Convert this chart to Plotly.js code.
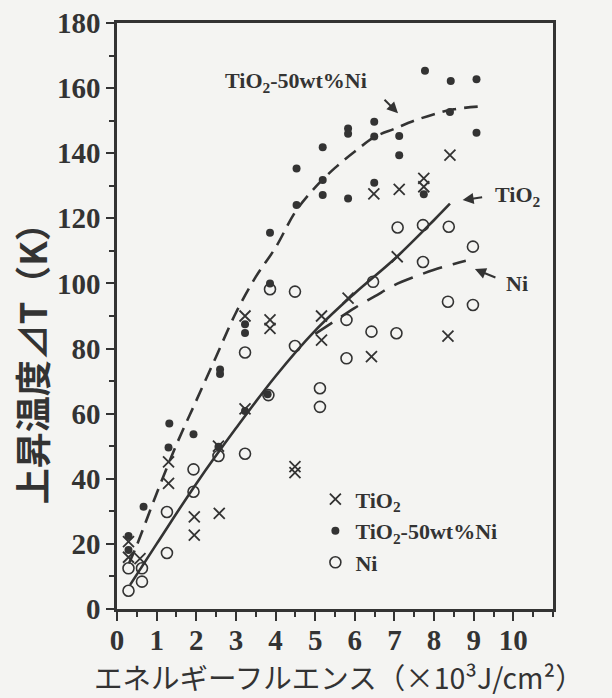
<!DOCTYPE html>
<html>
<head>
<meta charset="utf-8">
<script src="https://cdn.plot.ly/plotly-3.0.1.min.js"></script>
<style>
html,body{margin:0;padding:0;background:#f4f4f2;}
#chart{width:612px;height:698px;}
</style>
</head>
<body>
<div id="chart"></div>
<script>
// ---- data ----
const seriesNames = ['TiO<sub>2</sub>', 'TiO<sub>2</sub>-50wt%Ni', 'Ni'];

// TiO2 (crosses)
const tio2X = [0.29, 0.29, 0.58, 1.30, 1.30, 1.95, 1.95, 2.58, 2.56, 3.23, 3.23, 3.86, 3.86, 4.49, 4.49, 5.16, 5.16, 5.83, 6.42, 6.48, 7.07, 7.12, 7.74, 7.74, 8.35, 8.40];
const tio2Y = [20.7, 15.9, 15.5, 45.2, 38.6, 28.3, 22.7, 29.4, 50.0, 90.0, 61.5, 88.8, 86.2, 43.7, 41.9, 90.0, 82.6, 95.5, 77.5, 127.5, 108.2, 128.9, 132.3, 129.7, 83.8, 139.4];

// TiO2-50wt%Ni (filled dots)
const compX = [0.29, 0.29, 0.67, 1.32, 1.30, 1.93, 2.56, 2.60, 2.60, 3.23, 3.23, 3.23, 3.80, 3.86, 3.86, 4.53, 4.53, 5.19, 5.19, 5.19, 5.83, 5.83, 5.83, 6.49, 6.49, 6.49, 7.12, 7.12, 7.74, 7.77, 8.42, 8.40, 9.07, 9.07];
const compY = [22.4, 18.1, 31.4, 57.0, 49.6, 53.7, 49.8, 73.6, 72.2, 87.5, 84.8, 60.8, 66.0, 115.6, 100.0, 124.1, 135.3, 141.8, 131.8, 127.2, 147.6, 146.0, 126.1, 149.7, 145.1, 130.9, 145.3, 139.4, 127.4, 165.3, 162.2, 152.7, 162.7, 146.3];

// Ni (open circles)
const niX = [0.29, 0.29, 0.63, 0.63, 1.26, 1.26, 1.93, 1.93, 2.56, 3.23, 3.23, 3.82, 3.86, 4.49, 4.49, 5.12, 5.12, 5.79, 5.79, 6.42, 6.46, 7.05, 7.08, 7.72, 7.72, 8.37, 8.35, 8.98, 8.98];
const niY = [12.5, 5.6, 12.5, 8.4, 29.8, 17.2, 42.9, 36.0, 47.0, 78.8, 47.7, 65.7, 98.2, 97.5, 80.8, 67.8, 62.1, 88.8, 77.0, 85.2, 100.5, 84.7, 117.2, 117.9, 106.6, 117.4, 94.4, 111.3, 93.4];

// fitted curves
const fitTiO2X = [0.33, 1, 2, 3, 4, 5, 6, 7, 8, 8.4];
const fitTiO2Y = [7.4, 20, 38.5, 55.5, 71.5, 85.5, 97, 107.5, 119.5, 124.5];
const fitCompX = [0.3, 0.5, 1, 1.5, 2, 2.5, 3, 3.5, 4, 4.5, 5, 5.5, 6, 6.5, 7, 7.5, 8, 8.5, 9.1];
const fitCompY = [14, 19.6, 35.5, 50.5, 64, 77.5, 91, 102, 111, 122, 129.5, 135.5, 140.5, 145, 147.5, 150, 152, 153.5, 154.3];
const fitNiX = [5.0, 5.5, 6, 6.5, 7, 7.5, 8, 8.5, 8.8];
const fitNiY = [84.5, 88.5, 92.5, 96, 99.5, 102, 104.2, 106, 107];

const xTickVals = [0, 1, 2, 3, 4, 5, 6, 7, 8, 9, 10];
const yTickVals = [0, 20, 40, 60, 80, 100, 120, 140, 160, 180];

// ---- styling ----
const ink = '#333333';
const serifBold = {family: 'Liberation Serif, Times New Roman, serif', weight: 700, color: ink};

const traces = [
  {x: fitTiO2X, y: fitTiO2Y, mode: 'lines', showlegend: false, hoverinfo: 'skip',
   line: {color: ink, width: 2.6, shape: 'spline'}},
  {x: fitCompX, y: fitCompY, mode: 'lines', showlegend: false, hoverinfo: 'skip',
   line: {color: ink, width: 2.6, dash: '14px,8px', shape: 'spline'}},
  {x: fitNiX, y: fitNiY, mode: 'lines', showlegend: false, hoverinfo: 'skip',
   line: {color: ink, width: 2.6, dash: '20px,11px', shape: 'spline'}},
  {x: tio2X, y: tio2Y, mode: 'markers', name: seriesNames[0],
   marker: {symbol: 'x-thin-open', size: 11, color: ink, line: {color: ink, width: 1.8}}},
  {x: compX, y: compY, mode: 'markers', name: seriesNames[1],
   marker: {symbol: 'circle', size: 8, color: ink, line: {width: 0}}},
  {x: niX, y: niY, mode: 'markers', name: seriesNames[2],
   marker: {symbol: 'circle-open', size: 11, color: ink, line: {color: ink, width: 1.6}}}
];

const annFont = Object.assign({}, serifBold, {size: 22});

const layout = {
  width: 612, height: 698,
  margin: {l: 117, r: 59, t: 23, b: 89},
  paper_bgcolor: '#f4f4f2', plot_bgcolor: '#f4f4f2',
  showlegend: true,
  legend: {x: 0.455, y: 0.223, xanchor: 'left', yanchor: 'top',
    bgcolor: 'rgba(0,0,0,0)', font: annFont, tracegroupgap: 0, itemwidth: 30},
  xaxis: {range: [0, 11], tickvals: xTickVals, ticktext: xTickVals.map(String),
    showgrid: false, zeroline: false, showline: true, mirror: true,
    linecolor: ink, linewidth: 2.6, ticks: 'outside', ticklen: 9, tickwidth: 2, tickcolor: ink,
    ticklabelstandoff: -5,
    minor: {dtick: 0.5, tick0: 0, ticks: 'outside', ticklen: 5, tickwidth: 2, tickcolor: ink, showgrid: false},
    tickfont: Object.assign({}, serifBold, {size: 29})},
  yaxis: {range: [0, 180], tickvals: yTickVals, ticktext: yTickVals.map(String),
    showgrid: false, zeroline: false, showline: true, mirror: true,
    linecolor: ink, linewidth: 2.6, ticks: 'outside', ticklen: 8, tickwidth: 2, tickcolor: ink,
    minor: {dtick: 10, tick0: 0, ticks: 'outside', ticklen: 5, tickwidth: 2, tickcolor: ink, showgrid: false},
    tickfont: Object.assign({}, serifBold, {size: 29})},
  annotations: [
    // y-axis title
    {xref: 'paper', yref: 'paper', x: 0, y: 0.433, xshift: -86, text: '上昇温度⊿T（K）',
     textangle: -90, showarrow: false, xanchor: 'center', yanchor: 'middle',
     font: {family: 'Noto Sans CJK JP', weight: 700, size: 36, color: ink}},
    // x-axis title
    {xref: 'paper', yref: 'paper', x: 0.51, y: 0, yshift: -67, text: 'エネルギーフルエンス（×10³J/cm²）',
     showarrow: false, xanchor: 'center', yanchor: 'middle', borderpad: 0,
     font: {family: 'Noto Sans CJK JP', size: 28.5, color: ink}},
    // curve labels
    {x: 2.68, y: 161.9, text: 'TiO<sub>2</sub>-50wt%Ni', showarrow: false, xanchor: 'left', yanchor: 'middle', font: annFont},
    {x: 9.49, y: 127.0, text: 'TiO<sub>2</sub>', showarrow: false, xanchor: 'left', yanchor: 'middle', font: annFont},
    {x: 9.77, y: 100.1, text: 'Ni', showarrow: false, xanchor: 'left', yanchor: 'middle', font: annFont},
    // arrows
    {x: 7.09, y: 152.3, ax: -15, ay: -15, text: '', showarrow: true, arrowhead: 2, arrowsize: 1.1, arrowwidth: 2, arrowcolor: ink},
    {x: 8.72, y: 125.6, ax: 21, ay: -3, text: '', showarrow: true, arrowhead: 2, arrowsize: 1.1, arrowwidth: 2, arrowcolor: ink},
    {x: 9.03, y: 104.4, ax: 22, ay: 9, text: '', showarrow: true, arrowhead: 2, arrowsize: 1.1, arrowwidth: 2, arrowcolor: ink}
  ]
};

Plotly.newPlot('chart', traces, layout, {staticPlot: true, displayModeBar: false});
</script>
</body>
</html>
